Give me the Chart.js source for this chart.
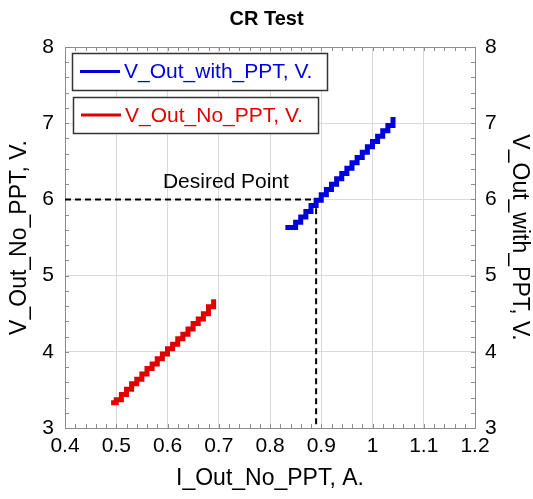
<!DOCTYPE html>
<html>
<head>
<meta charset="utf-8">
<script src="https://cdn.jsdelivr.net/npm/chart.js@4.4.1/dist/chart.umd.min.js"></script>
<style>
  body { margin: 0; background: #fff; }
  #wrap { width: 533px; height: 499px; }
</style>
</head>
<body>
<div id="wrap"><canvas id="crChart"></canvas></div>
<script>
const FONT = "'Liberation Sans', Arial, sans-serif";

// data
const noPptX = [0.49, 0.50, 0.51, 0.52, 0.53, 0.54, 0.55, 0.56, 0.57, 0.58, 0.59,
                0.60, 0.61, 0.62, 0.63, 0.64, 0.65, 0.66, 0.67, 0.68, 0.69];
const noPptY = [3.33, 3.37, 3.44, 3.51, 3.58, 3.64, 3.71, 3.78, 3.84, 3.91, 3.97,
                4.04, 4.10, 4.17, 4.23, 4.30, 4.37, 4.43, 4.50, 4.59, 4.69];

const withPptX = [0.83, 0.84, 0.85, 0.86, 0.87, 0.88, 0.89, 0.90, 0.91, 0.92, 0.93, 0.94,
                  0.95, 0.96, 0.97, 0.98, 0.99, 1.00, 1.01, 1.02, 1.03, 1.04, 1.045];
const withPptY = [5.63, 5.63, 5.70, 5.77, 5.84, 5.92, 5.99, 6.06, 6.13, 6.20, 6.27, 6.34,
                  6.41, 6.48, 6.55, 6.62, 6.69, 6.76, 6.83, 6.90, 6.97, 7.05, 7.05];

// desired point guide
const desiredX = 0.89;
const desiredY = 6;
const desiredLabel = 'Desired Point';
const desiredLabelPos = [0.714, 6.23];

const xRange = [0.4, 1.2];
const yRange = [3, 8];

const toPoints = (xs, ys) => xs.map((x, i) => ({x: x, y: ys[i]}));

const decor = {
    id: 'decor',
    beforeDatasetsDraw(chart) {
        const ctx = chart.ctx;
        const a = chart.chartArea;
        const sx = chart.scales.x;
        const sy = chart.scales.y;
        ctx.save();
        ctx.strokeStyle = '#8c8c8c';
        ctx.lineWidth = 1;
        ctx.beginPath();
        // minor ticks, inside, on all four sides
        for (let i = 0; i <= 40; i++) {
            const px = Math.round(sx.getPixelForValue(xRange[0] + i * 0.02)) + 0.5;
            ctx.moveTo(px, a.bottom); ctx.lineTo(px, a.bottom - 4);
            ctx.moveTo(px, a.top); ctx.lineTo(px, a.top + 4);
        }
        for (let i = 0; i <= 25; i++) {
            const py = Math.round(sy.getPixelForValue(yRange[0] + i * 0.2)) + 0.5;
            ctx.moveTo(a.left, py); ctx.lineTo(a.left + 4, py);
            ctx.moveTo(a.right, py); ctx.lineTo(a.right - 4, py);
        }
        ctx.stroke();
        ctx.strokeRect(Math.round(a.left) + 0.5, Math.round(a.top) + 0.5,
                       Math.round(a.right - a.left), Math.round(a.bottom - a.top));
        ctx.restore();
    },
    afterDraw(chart) {
        const ctx = chart.ctx;
        const sx = chart.scales.x;
        const sy = chart.scales.y;
        ctx.save();

        // "Desired Point" label
        ctx.font = '21px ' + FONT;
        ctx.fillStyle = '#000';
        ctx.textAlign = 'center';
        ctx.textBaseline = 'middle';
        ctx.fillText(desiredLabel, sx.getPixelForValue(desiredLabelPos[0]),
                     sy.getPixelForValue(desiredLabelPos[1]));

        // two boxed legends
        const boxes = [
            {ds: chart.data.datasets[1], x: 72, y: 53, w: 255, h: 37},
            {ds: chart.data.datasets[0], x: 73, y: 97, w: 245, h: 36}
        ];
        boxes.forEach(b => {
            ctx.fillStyle = '#fff';
            ctx.fillRect(b.x, b.y, b.w, b.h);
            ctx.strokeStyle = '#333';
            ctx.lineWidth = 1.5;
            ctx.strokeRect(b.x + 0.5, b.y + 0.5, b.w, b.h);
            const cy = b.y + b.h / 2;
            ctx.strokeStyle = b.ds.borderColor;
            ctx.lineWidth = 3;
            ctx.beginPath();
            ctx.moveTo(b.x + 8, cy);
            ctx.lineTo(b.x + 48, cy);
            ctx.stroke();
            ctx.fillStyle = b.ds.borderColor;
            ctx.font = '21px ' + FONT;
            ctx.textAlign = 'left';
            ctx.textBaseline = 'middle';
            ctx.fillText(b.ds.label, b.x + 52, cy + 1);
        });
        ctx.restore();
    }
};

const crConfig = {
    type: 'scatter',
    data: {
        datasets: [{
            label: 'V_Out_No_PPT, V.',
            data: toPoints(noPptX, noPptY),
            showLine: true,
            stepped: true,
            borderColor: '#e00000',
            borderWidth: 5,
            pointRadius: 0,
            yAxisID: 'y'
        }, {
            label: 'V_Out_with_PPT, V.',
            data: toPoints(withPptX, withPptY),
            showLine: true,
            stepped: true,
            borderColor: '#0000dd',
            borderWidth: 5,
            pointRadius: 0,
            yAxisID: 'y2'
        }, {
            label: 'guide',
            data: [{x: xRange[0], y: desiredY}, {x: desiredX, y: desiredY}, {x: desiredX, y: yRange[0]}],
            showLine: true,
            borderColor: '#000',
            borderWidth: 2,
            borderDash: [6, 4],
            pointRadius: 0,
            yAxisID: 'y'
        }]
    },
    options: {
        responsive: true,
        maintainAspectRatio: false,
        animation: false,
        layout: { padding: 0 },
        scales: {
            x: {
                type: 'linear',
                min: xRange[0],
                max: xRange[1],
                ticks: {
                    stepSize: 0.1,
                    color: '#000',
                    padding: 6,
                    maxRotation: 0,
                    font: { family: FONT, size: 21 },
                    callback: v => Math.round(v * 10) / 10
                },
                grid: { color: '#dadada', drawTicks: false },
                border: { display: false },
                title: {
                    display: true,
                    text: 'I_Out_No_PPT, A.',
                    color: '#000',
                    font: { family: FONT, size: 23 },
                    padding: { top: 0, bottom: 7 }
                },
                afterFit: s => { s.height = 71; }
            },
            y: {
                position: 'left',
                min: yRange[0],
                max: yRange[1],
                ticks: {
                    stepSize: 1,
                    color: '#000',
                    padding: 11,
                    font: { family: FONT, size: 21 }
                },
                grid: { color: '#dadada', drawTicks: false },
                border: { display: false },
                title: {
                    display: true,
                    text: 'V_Out_No_PPT, V.',
                    color: '#000',
                    font: { family: FONT, size: 23 },
                    padding: { top: 6, bottom: 0 }
                },
                afterFit: s => { s.width = 65; }
            },
            y2: {
                position: 'right',
                min: yRange[0],
                max: yRange[1],
                ticks: {
                    stepSize: 1,
                    color: '#000',
                    padding: 10,
                    font: { family: FONT, size: 21 }
                },
                grid: { display: false, drawTicks: false },
                border: { display: false },
                title: {
                    display: true,
                    text: 'V_Out_with_PPT, V.',
                    color: '#000',
                    font: { family: FONT, size: 23 },
                    padding: { top: 0, bottom: 0 }
                },
                afterFit: s => { s.width = 58; }
            }
        },
        plugins: {
            legend: { display: false },
            tooltip: { enabled: false },
            title: {
                display: true,
                text: 'CR Test',
                color: '#000',
                font: { family: FONT, size: 20, weight: 'bold' },
                padding: { top: 7, bottom: 16 }
            }
        }
    },
    plugins: [decor]
};

const crCanvas = document.getElementById('crChart');
const crChart = new Chart(crCanvas, crConfig);
</script>
</body>
</html>
